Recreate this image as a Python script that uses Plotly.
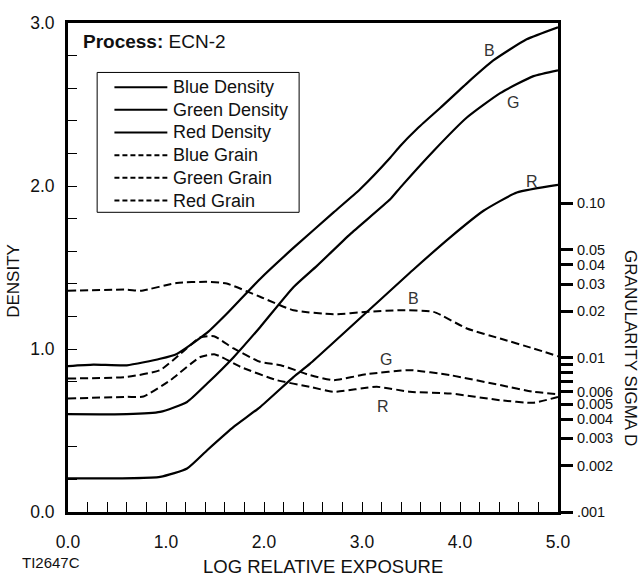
import plotly.graph_objects as go

# ---------------- data ----------------
blue_d_x = [0, 0.26, 0.6, 0.94, 1.11, 1.42, 1.62, 1.96, 2.30, 2.71, 2.98, 3.29, 3.39, 3.56, 3.80, 4.07, 4.34, 4.68, 5.0]
blue_d_y = [0.895, 0.904, 0.90, 0.94, 0.97, 1.10, 1.216, 1.43, 1.62, 1.838, 1.98, 2.175, 2.246, 2.35, 2.48, 2.63, 2.77, 2.90, 2.974]

green_d_x = [0, 0.6, 0.94, 1.215, 1.42, 1.69, 1.96, 2.30, 2.54, 2.88, 3.29, 3.39, 3.73, 4.07, 4.41, 4.75, 5.0]
green_d_y = [0.60, 0.60, 0.614, 0.675, 0.788, 0.95, 1.134, 1.379, 1.51, 1.705, 1.92, 1.99, 2.215, 2.42, 2.57, 2.674, 2.71]

red_d_x = [0, 0.94, 1.215, 1.42, 1.69, 1.96, 2.30, 2.47, 3.52, 3.90, 4.24, 4.58, 5.0]
red_d_y = [0.206, 0.216, 0.267, 0.379, 0.522, 0.644, 0.828, 0.91, 1.485, 1.685, 1.848, 1.96, 2.007]

blue_g_x = [0, 0.6, 0.74, 1.11, 1.42, 1.62, 1.96, 2.30, 2.71, 3.05, 3.39, 3.73, 4.07, 4.41, 4.75, 5.0]
blue_g_s = [0.0271, 0.0276, 0.0271, 0.0305, 0.031, 0.0302, 0.0248, 0.0203, 0.0191, 0.0198, 0.0203, 0.0198, 0.01545, 0.0133, 0.01147, 0.0102]

green_g_x = [0, 0.6, 0.94, 1.15, 1.35, 1.49, 1.69, 1.96, 2.17, 2.47, 2.71, 3.05, 3.49, 3.90, 4.41, 4.75, 5.0]
green_g_s = [0.00733, 0.0075, 0.0083, 0.01064, 0.01352, 0.01377, 0.01147, 0.0094, 0.00894, 0.0077, 0.00715, 0.00782, 0.0083, 0.0077, 0.00664, 0.00601, 0.0058]

red_g_x = [0, 0.6, 0.77, 1.045, 1.35, 1.5, 1.76, 2.13, 2.47, 2.71, 3.15, 3.49, 3.90, 4.41, 4.75, 5.0]
red_g_s = [0.00544, 0.00557, 0.0056, 0.00715, 0.0101, 0.0105, 0.00872, 0.00715, 0.00647, 0.00601, 0.00647, 0.00601, 0.00586, 0.0053, 0.0051, 0.00557]

x_tick_vals = [0, 1, 2, 3, 4, 5]
y_tick_vals = [0, 1, 2, 3]
sigma_tick_vals = [0.001, 0.002, 0.003, 0.004, 0.005, 0.006, 0.007, 0.008, 0.009, 0.01, 0.02, 0.03, 0.04, 0.05, 0.1]
sigma_tick_text = [".001", "0.002", "0.003", "0.004", "0.005", "0.006", "", "", "", "0.01", "0.02", "0.03", "0.04", "0.05", "0.10"]

series_names = ["Blue Density", "Green Density", "Red Density", "Blue Grain", "Green Grain", "Red Grain"]

# ---------------- figure ----------------
W, H = 641, 579
L, R, T, B = 67.5, 558.3, 22.5, 512.0   # plot box in window pixels
FONT = "Liberation Sans, Arial, Helvetica, sans-serif"
INK = "#111111"

fig = go.Figure()
solid = dict(color="black", width=2.2, shape="spline", smoothing=0.5)
dashed = dict(color="black", width=2.0, dash="8px,4px", shape="spline", smoothing=0.5)

for nm, xs, ys in [(series_names[0], blue_d_x, blue_d_y),
                   (series_names[1], green_d_x, green_d_y),
                   (series_names[2], red_d_x, red_d_y)]:
    fig.add_trace(go.Scatter(x=xs, y=ys, mode="lines", name=nm, line=solid, yaxis="y"))

for nm, xs, ys in [(series_names[3], blue_g_x, blue_g_s),
                   (series_names[4], green_g_x, green_g_s),
                   (series_names[5], red_g_x, red_g_s)]:
    fig.add_trace(go.Scatter(x=xs, y=ys, mode="lines", name=nm, line=dashed, yaxis="y2"))

plot_w = R - L
plot_h = B - T

def px(xp):
    return (xp - L) / plot_w

def py(yp):
    return (B - yp) / plot_h

# right log axis: .001 at bottom, 0.10 at window y=203
dec_per_px = 2.0 / (B - 203.0)
y2_top = -3 + (B - T) * dec_per_px

fig.update_layout(
    width=W, height=H,
    margin=dict(l=L, r=W - R, t=T, b=H - B, pad=0),
    paper_bgcolor="white", plot_bgcolor="white",
    font=dict(family=FONT, size=17, color=INK),
    showlegend=False,
    hovermode=False,
    xaxis=dict(
        range=[0, 5], tickvals=x_tick_vals, tickformat=".1f",
        ticks="inside", ticklen=10, tickwidth=1, tickcolor="black",
        minor=dict(dtick=0.2, ticks="inside", ticklen=10, tickwidth=1, tickcolor="black"),
        showline=True, linecolor="black", linewidth=3, mirror=True,
        showgrid=False, zeroline=False,
        tickfont=dict(size=17.5, color=INK), ticklabelstandoff=12,
    ),
    yaxis=dict(
        range=[0, 3], tickvals=y_tick_vals, tickformat=".1f",
        ticks="inside", ticklen=9, tickwidth=1, tickcolor="black",
        minor=dict(dtick=0.2, ticks="inside", ticklen=9, tickwidth=1, tickcolor="black"),
        showline=True, linecolor="black", linewidth=3, mirror=True,
        showgrid=False, zeroline=False,
        tickfont=dict(size=17.5, color=INK), ticklabelstandoff=7,
    ),
    yaxis2=dict(
        type="log", range=[-3, y2_top], overlaying="y", side="right",
        tickvals=sigma_tick_vals, ticktext=sigma_tick_text,
        ticks="outside", ticklen=12, tickwidth=3, tickcolor="black",
        showline=True, linecolor="black", linewidth=3,
        showgrid=False, zeroline=False,
        tickfont=dict(size=14.5, color=INK), ticklabelstandoff=1,
    ),
)

ann = []
shapes = []

def add_text(x, y, text, size=17, xanchor="center", yanchor="middle", angle=0,
             xref="paper", yref="paper", color=INK):
    ann.append(dict(x=x, y=y, xref=xref, yref=yref, text=text, showarrow=False,
                    xanchor=xanchor, yanchor=yanchor, textangle=angle,
                    font=dict(family=FONT, size=size, color=color)))

add_text(px(81), py(41.5), "<b>Process:</b> ECN-2", size=19, xanchor="left")
add_text(px(323), py(567), "LOG RELATIVE EXPOSURE", size=18.5)
add_text(px(13), py(281), "DENSITY", size=17, angle=-90)
add_text(px(631), py(347.5), "GRANULARITY SIGMA D", size=17, angle=90)
add_text(px(19), py(563), "TI2647C", size=15, xanchor="left")

# legend (drawn by hand to match the original box)
shapes.append(dict(type="rect", xref="paper", yref="paper",
                   x0=px(96.7), x1=px(299), y0=py(212), y1=py(72),
                   line=dict(color="black", width=1), fillcolor="white", layer="above"))
row0, row_step = 86.7, 22.7
for i, nm in enumerate(series_names):
    yr = row0 + i * row_step
    shapes.append(dict(type="line", xref="paper", yref="paper",
                       x0=px(114), x1=px(167), y0=py(yr), y1=py(yr),
                       line=dict(color="black", width=2, dash="solid" if i < 3 else "5px,3px"),
                       layer="above"))
    add_text(px(171), py(yr), nm, size=18, xanchor="left")

# curve labels (data coordinates)
GRAY = "#333333"
for xv, yv, t in [(4.30, 2.83, "B"), (4.54, 2.515, "G"), (4.73, 2.03, "R"),
                  (3.53, 1.31, "B"), (3.24, 0.936, "G"), (3.21, 0.649, "R")]:
    add_text(xv, yv, t, size=16, xref="x", yref="y", color=GRAY)

fig.update_layout(annotations=ann, shapes=shapes)

fig.write_html("out.html", config={"displayModeBar": False, "staticPlot": True},
               post_script="document.body.style.margin='0px';")
